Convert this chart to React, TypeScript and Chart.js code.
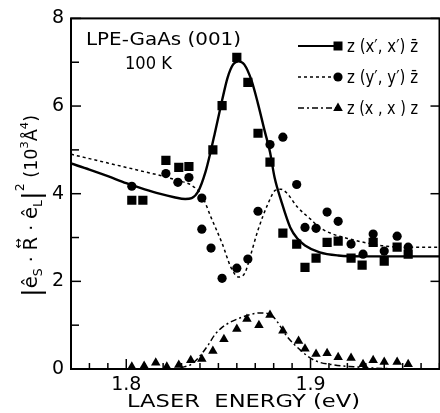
import React, { useEffect, useRef } from "react";
import { Chart, registerables } from "chart.js";

Chart.register(...registerables);

// ---- data: z(x',x')z̄ (squares) ----
const xxEnergy = [1.803, 1.809, 1.8215, 1.8285, 1.834, 1.847, 1.852, 1.860, 1.866, 1.8715, 1.878, 1.885, 1.8925, 1.897, 1.903, 1.909, 1.915, 1.922, 1.928, 1.934, 1.940, 1.947, 1.953];
const xxValue = [3.85, 3.85, 4.76, 4.60, 4.62, 5.0, 6.01, 7.11, 6.54, 5.38, 4.72, 3.10, 2.85, 2.32, 2.53, 2.89, 2.92, 2.53, 2.37, 2.89, 2.46, 2.78, 2.62];

// ---- data: z(y',y')z̄ (circles) ----
const yyEnergy = [1.803, 1.8215, 1.828, 1.834, 1.841, 1.841, 1.846, 1.852, 1.860, 1.866, 1.8715, 1.878, 1.885, 1.8925, 1.897, 1.903, 1.909, 1.915, 1.922, 1.9285, 1.934, 1.940, 1.947, 1.953];
const yyValue = [4.17, 4.46, 4.26, 4.37, 3.90, 3.19, 2.76, 2.07, 2.30, 2.51, 3.60, 5.12, 5.29, 4.21, 3.23, 3.21, 3.58, 3.37, 2.85, 2.62, 3.08, 2.69, 3.03, 2.78];

// ---- data: z(x,x)z (triangles) ----
const xEnergy = [1.803, 1.8097, 1.816, 1.822, 1.8285, 1.835, 1.841, 1.847, 1.853, 1.860, 1.8655, 1.872, 1.878, 1.885, 1.8935, 1.897, 1.903, 1.909, 1.915, 1.922, 1.9285, 1.934, 1.940, 1.947, 1.953];
const xValue = [0.05, 0.07, 0.14, 0.05, 0.09, 0.2, 0.23, 0.41, 0.68, 0.91, 1.14, 1.0, 1.23, 0.87, 0.64, 0.46, 0.34, 0.36, 0.27, 0.25, 0.11, 0.2, 0.16, 0.16, 0.11];

// ---- calculated curves ----
const fitXXEnergy = [1.77, 1.78, 1.79, 1.80, 1.81, 1.818, 1.826, 1.832, 1.8355, 1.839, 1.843, 1.846, 1.848, 1.852, 1.855, 1.858, 1.861, 1.864, 1.868, 1.8715, 1.875, 1.878, 1.8805, 1.884, 1.889, 1.893, 1.897, 1.905, 1.915, 1.93, 1.97];
const fitXXValue = [4.69, 4.55, 4.4, 4.24, 4.1, 4.0, 3.92, 3.88, 3.9, 4.05, 4.5, 5.0, 5.37, 6.13, 6.65, 6.95, 7.02, 6.95, 6.58, 6.05, 5.45, 4.95, 4.37, 3.85, 3.23, 2.97, 2.82, 2.66, 2.59, 2.57, 2.57];

const fitYYEnergy = [1.77, 1.78, 1.79, 1.80, 1.81, 1.818, 1.828, 1.8355, 1.841, 1.846, 1.852, 1.857, 1.861, 1.8645, 1.8675, 1.8715, 1.877, 1.881, 1.884, 1.887, 1.893, 1.900, 1.905, 1.912, 1.920, 1.930, 1.9415, 1.955, 1.97];
const fitYYValue = [4.9, 4.8, 4.7, 4.6, 4.5, 4.42, 4.3, 4.19, 3.96, 3.46, 2.87, 2.3, 2.1, 2.2, 2.6, 3.17, 3.78, 4.08, 4.1, 4.02, 3.69, 3.42, 3.23, 3.08, 2.98, 2.88, 2.80, 2.78, 2.78];

const fitXEnergy = [1.8295, 1.835, 1.839, 1.8445, 1.848, 1.852, 1.857, 1.862, 1.867, 1.873, 1.8795, 1.8875, 1.8945, 1.902, 1.913, 1.9235, 1.935, 1.95];
const fitXValue = [0.03, 0.1, 0.25, 0.55, 0.78, 0.95, 1.08, 1.17, 1.24, 1.28, 1.2, 0.73, 0.43, 0.2, 0.09, 0.05, 0.02, 0.0];

// ---- axes / text ----
const xTickValues = [1.8, 1.9];
const yTickValues = [0, 2, 4, 6, 8];
const legendLabels = ["z (x\u2032, x\u2032) z\u0304", "z (y\u2032, y\u2032) z\u0304", "z (x , x ) z"];
const sampleTitle = "LPE-GaAs (001)";
const sampleTemp = "100 K";
const xTitle = "LASER  ENERGY (eV)";

const FONT = '"DejaVu Sans", sans-serif';

const pts = (xs: number[], ys: number[]) => xs.map((x, i) => ({ x, y: ys[i] }));

function fitText(ctx: CanvasRenderingContext2D, text: string, x: number, y: number, size: number, width: number) {
  ctx.font = `${size}px ${FONT}`;
  const w = ctx.measureText(text).width;
  ctx.save();
  ctx.translate(x, y);
  ctx.scale(width / w, 1);
  ctx.textAlign = "left";
  ctx.textBaseline = "alphabetic";
  ctx.fillText(text, 0, 0);
  ctx.restore();
}

function drawMarker(ctx: CanvasRenderingContext2D, kind: string, x: number, y: number) {
  ctx.beginPath();
  if (kind === "rect") {
    ctx.rect(x - 4.5, y - 4.5, 9, 9);
  } else if (kind === "circle") {
    ctx.arc(x, y, 4.6, 0, Math.PI * 2);
  } else {
    ctx.moveTo(x, y - 5.5);
    ctx.lineTo(x + 4.8, y + 3);
    ctx.lineTo(x - 4.8, y + 3);
    ctx.closePath();
  }
  ctx.fill();
}

const decorPlugin = {
  id: "decor",
  afterDraw(chart: any) {
    const { ctx, chartArea: a, scales } = chart;
    const xs = scales.x;
    const ys = scales.y;
    ctx.save();
    ctx.strokeStyle = "#000";
    ctx.fillStyle = "#000";
    ctx.lineWidth = 2;
    ctx.strokeRect(a.left, a.top, a.right - a.left, a.bottom - a.top);

    // inward ticks, x axis
    ctx.lineWidth = 1.5;
    for (let i = 177; i <= 197; i++) {
      const v = i / 100;
      const px = xs.getPixelForValue(v);
      const major = i % 10 === 0;
      ctx.beginPath();
      ctx.moveTo(px, a.bottom);
      ctx.lineTo(px, a.bottom - (major ? 10 : 6));
      ctx.stroke();
    }
    // inward ticks, y axis (left: major+minor, right: major)
    for (let v = 0; v <= 8; v++) {
      const py = ys.getPixelForValue(v);
      ctx.beginPath();
      ctx.moveTo(a.left, py);
      ctx.lineTo(a.left + (v % 2 === 0 ? 10 : 8), py);
      ctx.stroke();
      if (v % 2 === 0) {
        ctx.beginPath();
        ctx.moveTo(a.right, py);
        ctx.lineTo(a.right - 9, py);
        ctx.stroke();
      }
    }

    // sample annotation
    fitText(ctx, sampleTitle, 86, 45, 17, 155);
    fitText(ctx, sampleTemp, 125, 69, 17, 47);

    // x title
    fitText(ctx, xTitle, 127, 407, 17, 233);

    // legend
    const rows = [46, 77, 108];
    const dashes = [[], [3, 3], [6, 3, 2, 3]];
    const widths = [2, 1.5, 1.5];
    const kinds = ["rect", "circle", "triangle"];
    rows.forEach((ry, i) => {
      ctx.save();
      ctx.setLineDash(dashes[i]);
      ctx.lineWidth = widths[i];
      ctx.beginPath();
      ctx.moveTo(298, ry);
      ctx.lineTo(336, ry);
      ctx.stroke();
      ctx.restore();
      drawMarker(ctx, kinds[i], 338, ry);
      fitText(ctx, legendLabels[i], 347, ry + 6, 17, 71);
    });

    // y title (rotated, with sub/superscripts)
    type Seg = { t: string; s: number; dy: number; arrow?: boolean };
    const segs: Seg[] = [
      { t: "|", s: 25, dy: 3 },
      { t: "ê", s: 19, dy: 0 },
      { t: "S", s: 12, dy: 5 },
      { t: " · ", s: 18, dy: 0 },
      { t: "R", s: 19, dy: 0, arrow: true },
      { t: " · ", s: 18, dy: 0 },
      { t: "ê", s: 19, dy: 0 },
      { t: "L", s: 12, dy: 5 },
      { t: "|", s: 25, dy: 3 },
      { t: "2", s: 12, dy: -13 },
      { t: " (10", s: 17, dy: 0 },
      { t: "3", s: 11, dy: -9 },
      { t: "Å", s: 17, dy: 0 },
      { t: "4", s: 11, dy: -9 },
      { t: ")", s: 17, dy: 0 },
    ];
    let total = 0;
    const ws = segs.map((sg) => {
      ctx.font = `${sg.s}px ${FONT}`;
      const w = ctx.measureText(sg.t).width;
      total += w;
      return w;
    });
    const target = 182;
    const sc = target / total;
    ctx.save();
    ctx.translate(37, 206);
    ctx.rotate(-Math.PI / 2);
    ctx.scale(sc, 1);
    ctx.textBaseline = "alphabetic";
    ctx.textAlign = "left";
    let cx = -total / 2;
    segs.forEach((sg, i) => {
      ctx.font = `${sg.s}px ${FONT}`;
      ctx.fillText(sg.t, cx, sg.dy);
      if (sg.arrow) {
        ctx.font = `12px ${FONT}`;
        const aw = ctx.measureText("\u2194").width;
        ctx.fillText("\u2194", cx + ws[i] / 2 - aw / 2, -15);
      }
      cx += ws[i];
    });
    ctx.restore();

    ctx.restore();
  },
};

export default function App() {
  const ref = useRef<HTMLCanvasElement>(null);
  useEffect(() => {
    if (!ref.current) return;
    const tickFont = { family: FONT, size: 19 };
    const chart = new Chart(ref.current, {
      type: "scatter",
      data: {
        datasets: [
          {
            data: pts(fitXXEnergy, fitXXValue),
            showLine: true,
            borderColor: "#000",
            borderWidth: 2.4,
            pointRadius: 0,
            cubicInterpolationMode: "monotone",
          },
          {
            data: pts(fitYYEnergy, fitYYValue),
            showLine: true,
            borderColor: "#000",
            borderWidth: 1.5,
            borderDash: [3, 3],
            pointRadius: 0,
            cubicInterpolationMode: "monotone",
          },
          {
            data: pts(fitXEnergy, fitXValue),
            showLine: true,
            borderColor: "#000",
            borderWidth: 1.5,
            borderDash: [6, 3, 2, 3],
            pointRadius: 0,
            cubicInterpolationMode: "monotone",
          },
          {
            data: pts(xxEnergy, xxValue),
            pointStyle: "rect",
            pointRadius: 6.5,
            backgroundColor: "#000",
            borderColor: "#000",
            borderWidth: 0,
          },
          {
            data: pts(yyEnergy, yyValue),
            pointStyle: "circle",
            pointRadius: 4.6,
            backgroundColor: "#000",
            borderColor: "#000",
            borderWidth: 0,
          },
          {
            data: pts(xEnergy, xValue),
            pointStyle: "triangle",
            pointRadius: 5.5,
            backgroundColor: "#000",
            borderColor: "#000",
            borderWidth: 0,
          },
        ],
      } as any,
      options: {
        animation: false,
        responsive: false,
        maintainAspectRatio: false,
        layout: { padding: { top: 17, right: 3, left: 0, bottom: 0 } },
        plugins: { legend: { display: false }, tooltip: { enabled: false } },
        scales: {
          x: {
            type: "linear",
            min: 1.77,
            max: 1.97,
            grid: { display: false, drawTicks: false },
            border: { display: false },
            ticks: {
              font: tickFont,
              color: "#000",
              padding: 5,
              maxRotation: 0,
              autoSkip: false,
              callback: (v: any) => Number(v).toFixed(1),
            },
            afterBuildTicks: (s: any) => {
              s.ticks = xTickValues.map((v) => ({ value: v }));
            },
            afterFit: (s: any) => {
              s.height = 44;
            },
          },
          y: {
            type: "linear",
            min: 0,
            max: 8,
            grid: { display: false, drawTicks: false },
            border: { display: false },
            ticks: {
              font: tickFont,
              color: "#000",
              padding: 7,
              autoSkip: false,
              callback: (v: any) => String(v),
            },
            afterBuildTicks: (s: any) => {
              s.ticks = yTickValues.map((v) => ({ value: v }));
            },
            afterFit: (s: any) => {
              s.width = 71;
            },
          },
        },
      } as any,
      plugins: [decorPlugin],
    });
    return () => chart.destroy();
  }, []);

  return (
    <div style={{ position: "fixed", left: 0, top: 0, width: 440, height: 413, overflow: "hidden", background: "#fff" }}>
      <canvas ref={ref} width={446} height={413} style={{ display: "block" }} />
    </div>
  );
}
